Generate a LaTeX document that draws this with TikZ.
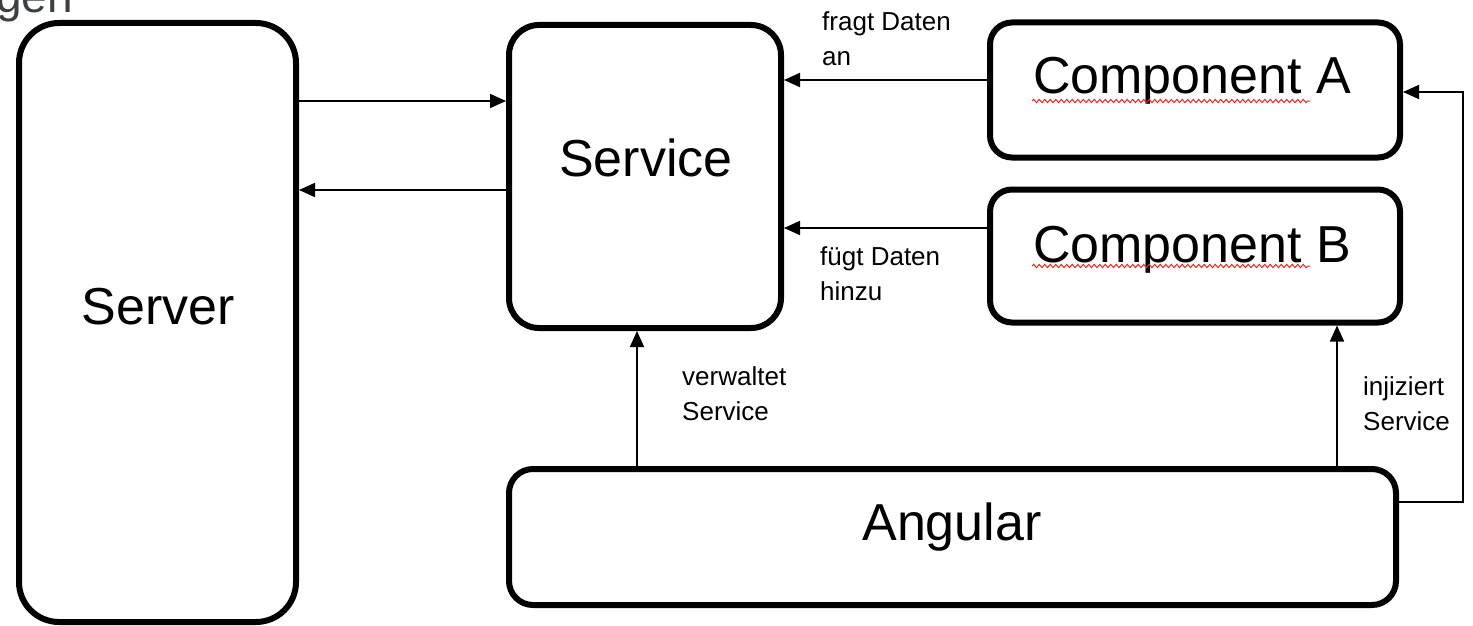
\documentclass[tikz,border=0pt]{standalone}
\usepackage{fontspec}
\setmainfont{Liberation Sans}
\usetikzlibrary{arrows.meta,decorations.pathmorphing}
\definecolor{topgray}{RGB}{60,64,67}
\definecolor{squigred}{RGB}{235,40,40}
\begin{document}
\begin{tikzpicture}[x=1pt,y=-1pt,
  box/.style={draw=black, line width=6pt, fill=white, inner sep=0pt},
  bigtext/.style={font=\fontsize{52}{60}\selectfont, inner sep=0pt, anchor=base},
  lbl/.style={font=\fontsize{26}{35}\selectfont, inner sep=0pt, align=left, anchor=base west},
  arr/.style={draw=black, line width=1.7pt, -{Triangle[length=16pt,width=14pt]}},
  squig/.style={draw=squigred, line width=1pt, decorate, decoration={snake, segment length=5.5pt, amplitude=1.6pt}}]
\useasboundingbox (0,0) rectangle (1473,626);
% top-left cut text
\node[font=\fontsize{46}{50}\selectfont, text=topgray, inner sep=0pt, anchor=base east] (cut) at (73,12.5) {agen};
% boxes
\node[box, rounded corners=40pt, minimum width=277pt, minimum height=599pt] (server) at (157.5,322.5) {};
\node[box, rounded corners=30pt, minimum width=272pt, minimum height=303pt] (service) at (645,176.5) {};
\node[box, rounded corners=22pt, minimum width=410pt, minimum height=135pt] (compA) at (1195,90) {};
\node[box, rounded corners=22pt, minimum width=410pt, minimum height=133pt] (compB) at (1195,256) {};
\node[box, rounded corners=24pt, minimum width=887pt, minimum height=136pt] (angular) at (952.5,537) {};
% box texts
\node[bigtext] (serverT) at (158,324) {Server};
\node[bigtext] (serviceT) at (646,176) {Service};
\node[bigtext, anchor=base west] (compAT) at (1033,93) {Component A};
\node[bigtext, anchor=base west] (compBT) at (1033,262) {Component B};
\node[bigtext] (angularT) at (952,540) {Angular};
% spell-check squiggles
\draw[squig] (1032,101) -- (1310,101);
\draw[squig] (1032,266) -- (1310,266);
% helper coordinates
\coordinate (y1) at (0,101);
\coordinate (y2) at (0,190);
\coordinate (y3) at (0,80);
\coordinate (y4) at (0,228);
\coordinate (x5) at (637,0);
\coordinate (x6) at (1337,0);
\coordinate (y7) at (0,502);
\coordinate (y8) at (0,92);
\coordinate (x7) at (1463,0);
% connectors
\draw[arr] (server.east |- y1) -- (service.west |- y1);
\draw[arr] (service.west |- y2) -- (server.east |- y2);
\draw[arr] (compA.west |- y3) -- (service.east |- y3);
\draw[arr] (compB.west |- y4) -- (service.east |- y4);
\draw[arr] (angular.north -| x5) -- (service.south -| x5);
\draw[arr] (angular.north -| x6) -- (compB.south -| x6);
\draw[arr] (angular.east |- y7) -| (x7 |- y8) -- (compA.east |- y8);
% labels (anchor at baseline of last line)
\node[lbl] (l1) at (822,66) {fragt Daten\\an};
\node[lbl] (l2) at (820,300) {fügt Daten\\hinzu};
\node[lbl] (l3) at (682,420) {verwaltet\\Service};
\node[lbl] (l4) at (1363,430) {injiziert\\Service};
\end{tikzpicture}
\end{document}
